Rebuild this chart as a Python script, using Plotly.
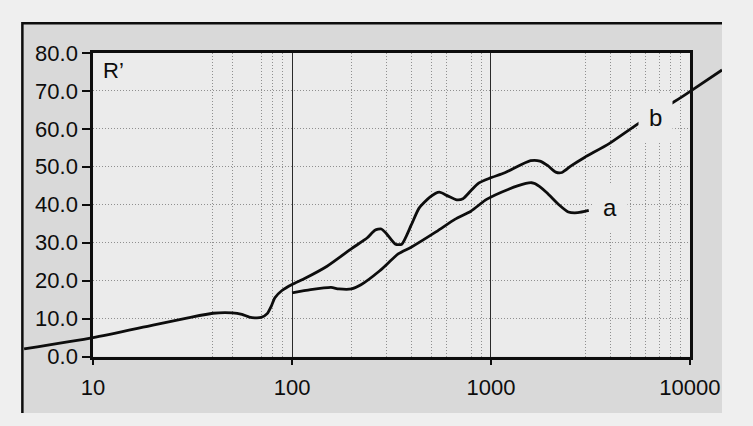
import math
import plotly.graph_objects as go

# ---- data -------------------------------------------------------------
b_x = [4.5, 10, 20, 30, 40, 50, 56, 61, 65, 70, 75, 79, 82, 89, 100, 115, 150,
       200, 239, 261, 281, 297, 331, 356, 397, 435, 493, 550, 603, 673, 723,
       792, 867, 986, 1181, 1581, 1762, 1931, 2115, 2274, 2537, 2937, 3927,
       5550, 8130, 9400, 14500]
b_y = [2.0, 5.0, 8.3, 10.2, 11.4, 11.5, 11.1, 10.4, 10.2, 10.3, 11.3, 13.5,
       15.5, 17.4, 19.0, 20.5, 23.8, 28.5, 31.3, 33.3, 33.6, 32.5, 29.6, 29.6,
       34.6, 39.1, 42.0, 43.3, 42.4, 41.3, 41.6, 43.7, 45.7, 47.0, 48.5, 51.6,
       51.5, 50.3, 48.6, 48.5, 50.3, 52.4, 56.1, 61.5, 66.8, 68.9, 75.5]

a_x = [100, 124, 157, 172, 199, 222, 276, 343, 397, 531, 661, 792, 950, 1227,
       1497, 1600, 1670, 1897, 2195, 2447, 2730, 3100]
a_y = [16.8, 17.6, 18.2, 17.8, 17.8, 18.9, 22.6, 27.1, 28.8, 32.9, 36.2, 38.3,
       41.4, 44.1, 45.6, 45.8, 45.5, 43.3, 40.0, 38.1, 37.9, 38.5]

x_ticks = [10, 100, 1000, 10000]
x_ticktext = ["10", "100", "1000", "10000"]
x_minor_grid = [40, 50, 70, 80, 90, 200, 300, 400, 500, 600, 800, 900,
                3000, 4000, 5000, 6000, 7000, 8000, 9000]
y_ticks = [0, 10, 20, 30, 40, 50, 60, 70, 80]

# curve labels: (text, x, y)
labels = [("a", 3950, 39.4), ("b", 6750, 63.0)]

# ---- geometry (pixels) ------------------------------------------------
W, H = 753, 426
PL, PR, PT, PB = 86, 719, 43.5, 366      # inner plot box
FL, FT = 11, 12                          # outer frame left / top
X_LOG = (1.0, 4.0)                       # log10 range of the axis
Y_RNG = (0.0, 80.0)

px_per_dec = (PR - PL) / (X_LOG[1] - X_LOG[0])
px_per_unit = (PB - PT) / (Y_RNG[1] - Y_RNG[0])

# full-canvas overlay axes, aligned with the inner axes so curves may run past the box
x2_rng = [X_LOG[0] - PL / px_per_dec, X_LOG[1] + (W - PR) / px_per_dec]
y2_rng = [Y_RNG[0] - (H - PB) / px_per_unit, Y_RNG[1] + PT / px_per_unit]

FONT = "Liberation Sans, Arial, Helvetica, sans-serif"
INK = "#0d0d0d"
PLOT_BG = "#ebebeb"
GRID = "#8f8f8f"
DOTS = "1px,2px"

fig = go.Figure()

for xs, ys in ((b_x, b_y), (a_x, a_y)):
    fig.add_trace(go.Scatter(
        x=xs, y=ys, xaxis="x2", yaxis="y2", mode="lines",
        line=dict(color=INK, width=2.8, shape="spline", smoothing=0.6),
        hoverinfo="skip", showlegend=False,
    ))

fx0, fy1 = FL / W, 1 - FT / H

fig.update_layout(
    width=W, height=H, autosize=False,
    margin=dict(l=0, r=0, t=0, b=0),
    paper_bgcolor="#efefef",
    plot_bgcolor="rgba(0,0,0,0)",
    font=dict(family=FONT, size=22, color=INK),
    xaxis=dict(
        type="log", range=list(X_LOG),
        domain=[PL / W, PR / W], anchor="y",
        tickvals=x_ticks, ticktext=x_ticktext,
        ticks="outside", ticklen=6, tickwidth=1.5, tickcolor=INK,
        ticklabelstandoff=3,
        showline=True, linecolor=INK, linewidth=2.5, mirror=True,
        showgrid=True, gridcolor="#2a2a2a", gridwidth=1.2,
        minor=dict(tickvals=x_minor_grid, showgrid=True, gridcolor=GRID,
                   griddash=DOTS, gridwidth=1),
        zeroline=False,
    ),
    yaxis=dict(
        range=list(Y_RNG),
        domain=[(H - PB) / H, (H - PT) / H], anchor="x",
        tickvals=y_ticks, tickformat=".1f",
        ticks="outside", ticklen=8, tickwidth=1.5, tickcolor=INK,
        showline=True, linecolor=INK, linewidth=2.5, mirror=True,
        showgrid=True, gridcolor=GRID, griddash=DOTS, gridwidth=1,
        zeroline=False,
    ),
    xaxis2=dict(type="log", range=x2_rng, domain=[0, 1], anchor="y2",
                visible=False, fixedrange=True),
    yaxis2=dict(range=y2_rng, domain=[0, 1], anchor="x2",
                visible=False, fixedrange=True),
    shapes=[
        # grey border band inside the outer frame
        dict(type="rect", xref="paper", yref="paper", layer="below",
             x0=fx0, x1=1, y0=0, y1=fy1,
             fillcolor="#d9d9d9", line=dict(width=0)),
        # outer frame: left and top edges (the rest runs off the page)
        dict(type="path", xref="paper", yref="paper", layer="below",
             path=f"M {fx0},0 L {fx0},{fy1} L 1,{fy1}",
             line=dict(color=INK, width=2.5)),
        # inner plot background
        dict(type="rect", xref="x domain", yref="y domain", layer="below",
             x0=0, x1=1, y0=0, y1=1, fillcolor=PLOT_BG, line=dict(width=0)),
    ],
)

annotations = [
    dict(text="R\u2019", xref="x domain", yref="y domain", x=0.013, y=0.943,
         xanchor="left", yanchor="middle", showarrow=False,
         font=dict(family=FONT, size=22, color=INK)),
]
for txt, lx, ly in labels:
    annotations.append(dict(
        text=txt, xref="x", yref="y", x=math.log10(lx), y=ly,
        xanchor="center", yanchor="middle", showarrow=False,
        bgcolor=PLOT_BG, borderpad=10,
        font=dict(family=FONT, size=24, color=INK),
    ))
fig.update_layout(annotations=annotations)

fig.write_html("out.html")
